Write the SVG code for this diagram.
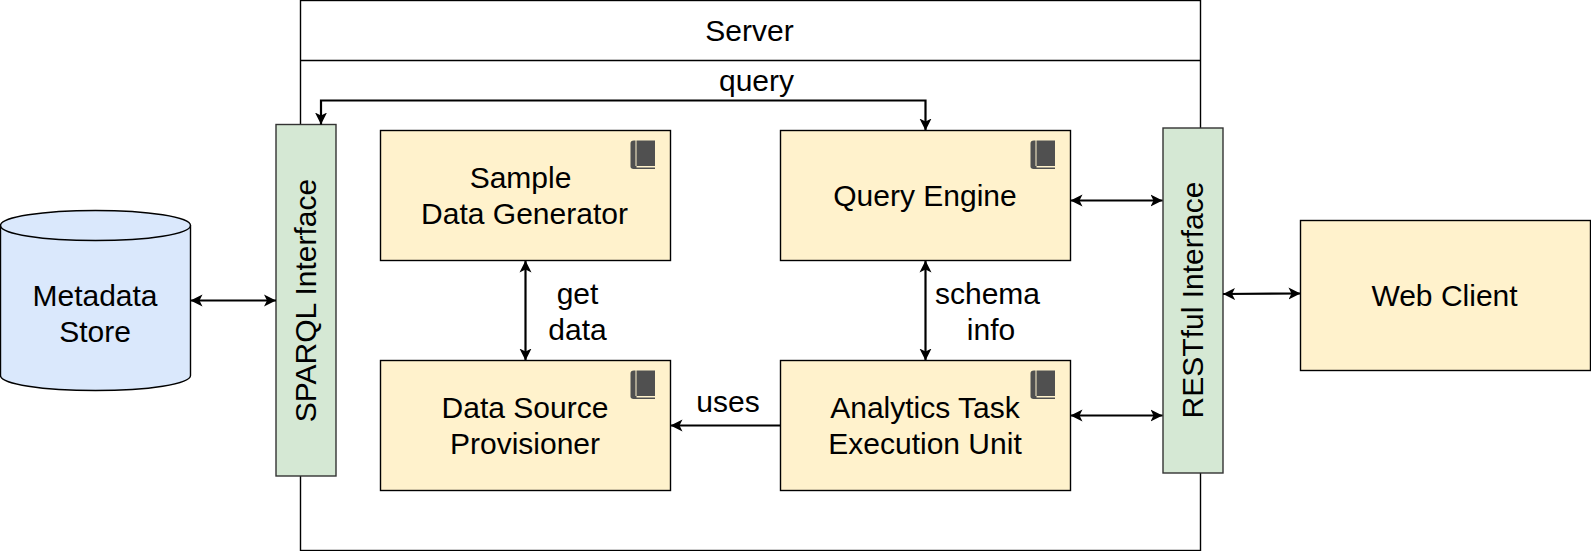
<svg xmlns="http://www.w3.org/2000/svg" width="1591" height="551" viewBox="0 0 1591 551">
<style>
text{font-family:"Liberation Sans",Arial,sans-serif;font-size:30px;fill:#000;text-anchor:middle}
.box{fill:#fff2cc;stroke:#000;stroke-width:1.4}
.iface{fill:#d5e8d4;stroke:#333;stroke-width:1.4}
.conn{fill:none;stroke:#000;stroke-width:2.2;marker-start:url(#h);marker-end:url(#h)}
.one{fill:none;stroke:#000;stroke-width:2.2;marker-end:url(#h)}
</style>
<defs>
<marker id="h" markerUnits="userSpaceOnUse" markerWidth="14" markerHeight="14" refX="12" refY="7" orient="auto-start-reverse" viewBox="0 0 14 14"><path d="M0 1L12 7L0 13L3 7Z" fill="#000"/></marker>
<g id="book"><path d="M5.500 0.500H4C1.500 0.500 0.500 1.500 0.500 3.500V26.500C0.500 28 1.500 29 3.500 29H25V27.500H6.500V26H5.500Z" fill="#505050"/><rect x="6.500" y="0.500" width="18.500" height="25.500" fill="#505050"/></g>
</defs>
<g id="server"><rect x="300.500" y="0.500" width="900" height="550" fill="#fff" stroke="#000" stroke-width="1.400"/><line x1="300.500" y1="60.500" x2="1200.500" y2="60.500" stroke="#000" stroke-width="1.400"/><text x="749.500" y="41">Server</text></g>
<g id="metadata-store"><path d="M0.500 225.500C0.500 217 43 210.500 95.500 210.500S190.500 217 190.500 225.500V375.500C190.500 384 148 390.500 95.500 390.500S0.500 384 0.500 375.500Z" fill="#dae8fc" stroke="#000" stroke-width="1.400"/><path d="M0.500 225.500C0.500 234 43 240.500 95.500 240.500S190.500 234 190.500 225.500" fill="none" stroke="#000" stroke-width="1.400"/><text x="95" y="306">Metadata</text><text x="95" y="342">Store</text></g>
<g id="sparql-interface"><rect class="iface" x="276" y="124.500" width="60" height="351.500"/><text transform="translate(316 300.500) rotate(-90)">SPARQL Interface</text></g>
<g id="sample-data-generator"><rect class="box" x="380.500" y="130.500" width="290" height="130"/><use href="#book" x="630" y="140"/><text x="520.500" y="188">Sample</text><text x="524.500" y="224">Data Generator</text></g>
<g id="query-engine"><rect class="box" x="780.500" y="130.500" width="290" height="130"/><use href="#book" x="1030" y="140"/><text x="925" y="206">Query Engine</text></g>
<g id="data-source-provisioner"><rect class="box" x="380.500" y="360.500" width="290" height="130"/><use href="#book" x="630" y="370"/><text x="525" y="418">Data Source</text><text x="525" y="454">Provisioner</text></g>
<g id="analytics-task"><rect class="box" x="780.500" y="360.500" width="290" height="130"/><use href="#book" x="1030" y="370"/><text x="925" y="418">Analytics Task</text><text x="925" y="454">Execution Unit</text></g>
<g id="restful-interface"><rect class="iface" x="1163" y="128" width="60" height="345"/><text transform="translate(1203 300) rotate(-90)">RESTful Interface</text></g>
<g id="web-client"><rect class="box" x="1300.500" y="220.500" width="290" height="150"/><text x="1444.500" y="306">Web Client</text></g>
<g id="connectors">
<path class="conn" d="M190.500 300.500H276"/>
<path class="conn" d="M321 124.500V100.500H925.500V130.500"/>
<path class="conn" d="M525.500 260.500V360.500"/>
<path class="conn" d="M925.500 260.500V360.500"/>
<path class="one" d="M780.500 425.500H670.500"/>
<path class="conn" d="M1070.500 200.500H1162.500"/>
<path class="conn" d="M1070.500 415.500H1162.500"/>
<path class="conn" d="M1223 294L1300.500 293.500"/>
</g>
<g id="labels"><text x="756.500" y="91">query</text><text x="577.500" y="304">get</text><text x="577.500" y="340">data</text><text x="987.500" y="304">schema</text><text x="991" y="340">info</text><text x="728" y="412">uses</text></g>
</svg>
